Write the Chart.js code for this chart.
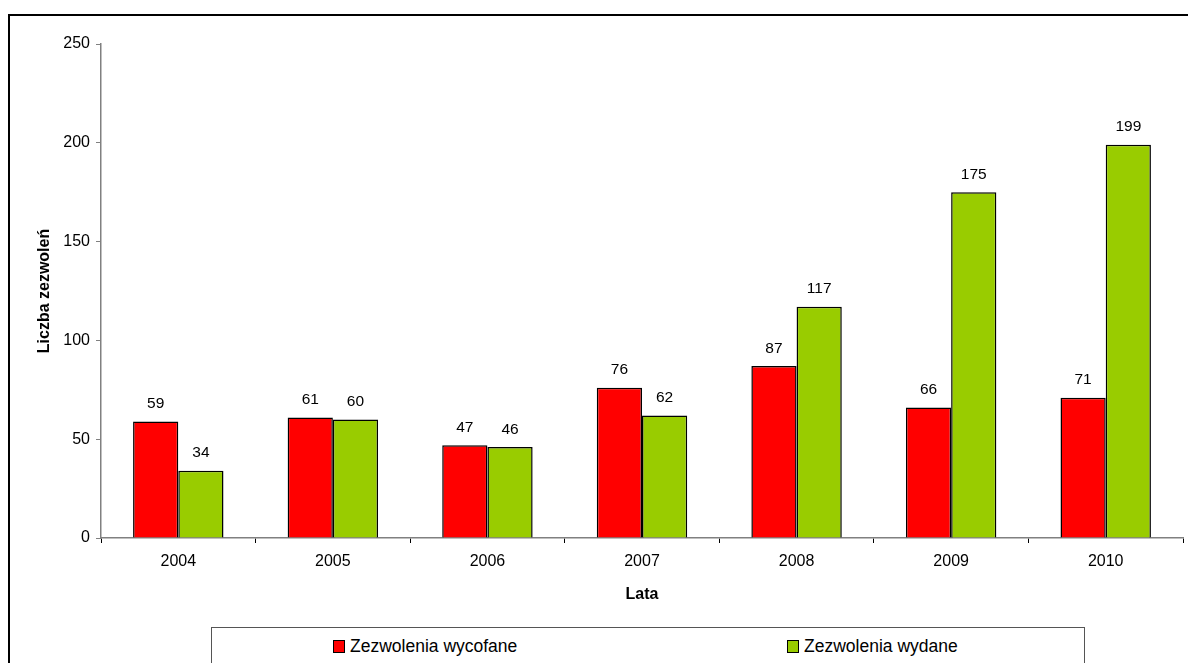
<!DOCTYPE html>
<html>
<head>
<meta charset="utf-8">
<script src="https://cdn.jsdelivr.net/npm/chart.js@4"></script>
<style>
  body { margin: 0; background: #fff; overflow: hidden; font-family: "Liberation Sans", Arial, sans-serif; }
  #wrap { position: relative; width: 1188px; height: 663px; }
  #frame { position: absolute; left: 8px; top: 14px; width: 1200px; height: 700px; border: 2px solid #000; box-sizing: border-box; }
  #legend { position: absolute; left: 211px; top: 627px; width: 874px; height: 40px; border: 1px solid #555; box-sizing: border-box; background: #fff; }
  .item { position: absolute; top: 8px; font-size: 17.5px; color: #000; }
  .box { display: inline-block; width: 10px; height: 11px; border: 1px solid #000; margin-right: 5px; vertical-align: -1px; }
</style>
</head>
<body>
<div id="wrap">
  <div id="frame"></div>
  <canvas id="chart" width="1188" height="663" style="position:absolute;left:0;top:0"></canvas>
  <div id="legend">
    <div class="item" style="left:121px"><span class="box" style="background:#FF0000"></span>Zezwolenia wycofane</div>
    <div class="item" style="left:575px"><span class="box" style="background:#99CC00"></span>Zezwolenia wydane</div>
  </div>
</div>
<script>
const years = ['2004', '2005', '2006', '2007', '2008', '2009', '2010'];
const withdrawn = [59, 61, 47, 76, 87, 66, 71];
const issued = [34, 60, 46, 62, 117, 175, 199];

const valueLabels = {
  id: 'valueLabels',
  afterDatasetsDraw(chart) {
    const ctx = chart.ctx;
    ctx.save();
    ctx.font = '15.5px "Liberation Sans", Arial, sans-serif';
    ctx.fillStyle = '#000';
    ctx.textAlign = 'center';
    ctx.textBaseline = 'bottom';
    chart.data.datasets.forEach((ds, i) => {
      chart.getDatasetMeta(i).data.forEach((bar, j) => {
        ctx.fillText(ds.data[j], bar.x, bar.y - 10);
      });
    });
    ctx.restore();
  }
};

new Chart(document.getElementById('chart'), {
  type: 'bar',
  data: {
    labels: years,
    datasets: [
      {
        label: 'Zezwolenia wycofane',
        data: withdrawn,
        backgroundColor: '#FF0000',
        borderColor: '#000',
        borderWidth: 1.5,
      },
      {
        label: 'Zezwolenia wydane',
        data: issued,
        backgroundColor: '#99CC00',
        borderColor: '#000',
        borderWidth: 1.5,
      },
    ],
  },
  options: {
    responsive: false,
    animation: false,
    layout: { padding: { top: 44, right: 5, bottom: 55, left: 0 } },
    datasets: { bar: { barPercentage: 1, categoryPercentage: 0.585 } },
    plugins: { legend: { display: false }, tooltip: { enabled: false } },
    scales: {
      x: {
        grid: { drawOnChartArea: false, drawTicks: true, tickLength: 5, color: '#000', offset: true },
        border: { color: '#808080', width: 1.5 },
        ticks: { color: '#000', font: { size: 16, family: '"Liberation Sans", Arial' }, padding: 9 },
        title: { display: true, text: 'Lata', color: '#000', font: { size: 16, weight: 'bold', family: '"Liberation Sans", Arial' }, padding: { top: 0 } },
        afterFit(scale) { scale.height = 70; },
      },
      y: {
        min: 0,
        max: 250,
        grid: { drawOnChartArea: false, drawTicks: true, tickLength: 5, color: '#808080' },
        border: { color: '#808080', width: 1.5 },
        ticks: { stepSize: 50, color: '#000', font: { size: 16, family: '"Liberation Sans", Arial' }, padding: 6 },
        title: { display: true, text: 'Liczba zezwoleń', color: '#000', font: { size: 16, weight: 'bold', family: '"Liberation Sans", Arial' }, padding: { top: 35, bottom: 0 } },
        afterFit(scale) { scale.width = 101; },
      },
    },
  },
  plugins: [valueLabels],
});
</script>
</body>
</html>
